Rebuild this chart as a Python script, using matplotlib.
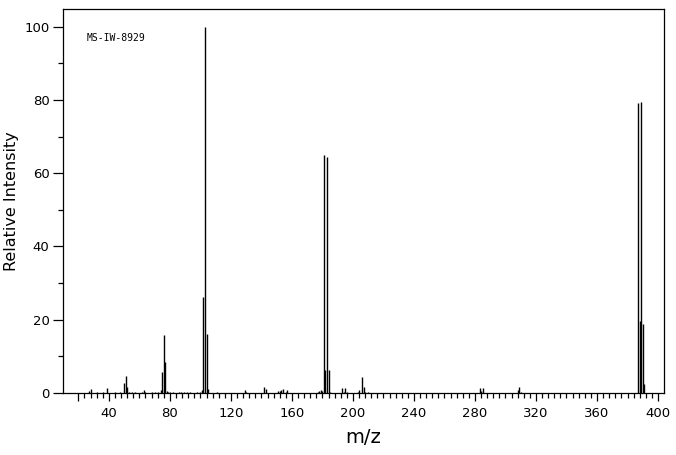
import numpy as np
import matplotlib
matplotlib.use("Agg")
import matplotlib.pyplot as plt

# peak list (m/z, relative intensity)
mz = [27, 28, 32, 36, 39, 44, 47, 50, 51, 52, 53, 55, 57, 62, 63, 64, 68, 70, 72,
      74, 75, 76, 77, 78, 79, 80, 82, 86, 87, 89, 91, 93, 98, 100, 101, 102, 103,
      104, 105, 111, 129, 130, 142, 143, 151, 152, 153, 154, 156, 157, 177, 178,
      179, 180, 181, 182, 183, 184, 185, 193, 194, 195, 196, 203, 204, 206, 207,
      208, 210, 283, 284, 285, 308, 309, 310, 387, 388, 389, 390, 391]
inten = [0.6, 1.1, 0.3, 0.3, 1.4, 0.3, 0.3, 2.8, 4.6, 1.5, 0.3, 0.3, 0.3, 0.4, 0.8,
         0.3, 0.3, 0.3, 0.3, 0.8, 5.8, 15.9, 8.4, 0.6, 0.3, 0.3, 0.3, 0.3, 0.3, 0.3,
         0.3, 0.3, 0.3, 0.4, 0.7, 26.3, 100.0, 16.1, 1.2, 0.3, 0.8, 0.3, 1.6, 1.0,
         0.5, 0.6, 0.8, 1.1, 0.3, 0.9, 0.4, 0.6, 0.9, 0.5, 65.0, 6.3, 64.4, 6.2,
         0.4, 1.4, 0.3, 1.4, 0.4, 0.4, 0.8, 4.4, 1.6, 0.3, 0.4, 1.4, 0.6, 1.4, 0.8,
         1.6, 0.3, 79.2, 19.7, 79.5, 18.9, 2.5]

x_major = [20] + list(range(40, 401, 40))
x_labels = [""] + [str(v) for v in range(40, 401, 40)]
x_minor = list(range(20, 401, 4))
y_major = [0, 20, 40, 60, 80, 100]
y_minor = [10, 30, 50, 70, 90]
spectrum_id = "MS-IW-8929"

fig = plt.figure(figsize=(6.76, 4.55), dpi=100)
ax = fig.add_axes([0.0936, 0.1363, 0.8886, 0.8431])

ax.vlines(mz, 0, inten, colors="black", linewidth=1.0)

ax.set_xlim(10.1, 403.9)
ax.set_ylim(0, 104.7)

for s in ax.spines.values():
    s.set_linewidth(0.9)
    s.set_color("black")

ax.set_xticks(x_major, labels=x_labels)
ax.set_xticks([v for v in x_minor if v not in x_major], minor=True)
ax.set_yticks(y_major)
ax.set_yticks(y_minor, minor=True)

ax.tick_params(axis="x", which="major", direction="out", length=6, width=0.9,
               pad=4, labelsize=9.5)
ax.tick_params(axis="x", which="minor", direction="out", length=3.8, width=0.9)
ax.tick_params(axis="y", which="major", direction="out", length=7, width=0.9,
               pad=3, labelsize=9.5)
ax.tick_params(axis="y", which="minor", direction="out", length=3.6, width=0.9)

ax.set_xlabel("m/z", fontsize=14, labelpad=6)
ax.set_ylabel("Relative Intensity", fontsize=11.5)
ax.yaxis.set_label_coords(-0.074, 0.5)

ax.text(0.039, 0.926, spectrum_id, transform=ax.transAxes, fontsize=7,
        family="DejaVu Sans Mono", va="center", ha="left")

fig.savefig("out.png", dpi=100)
